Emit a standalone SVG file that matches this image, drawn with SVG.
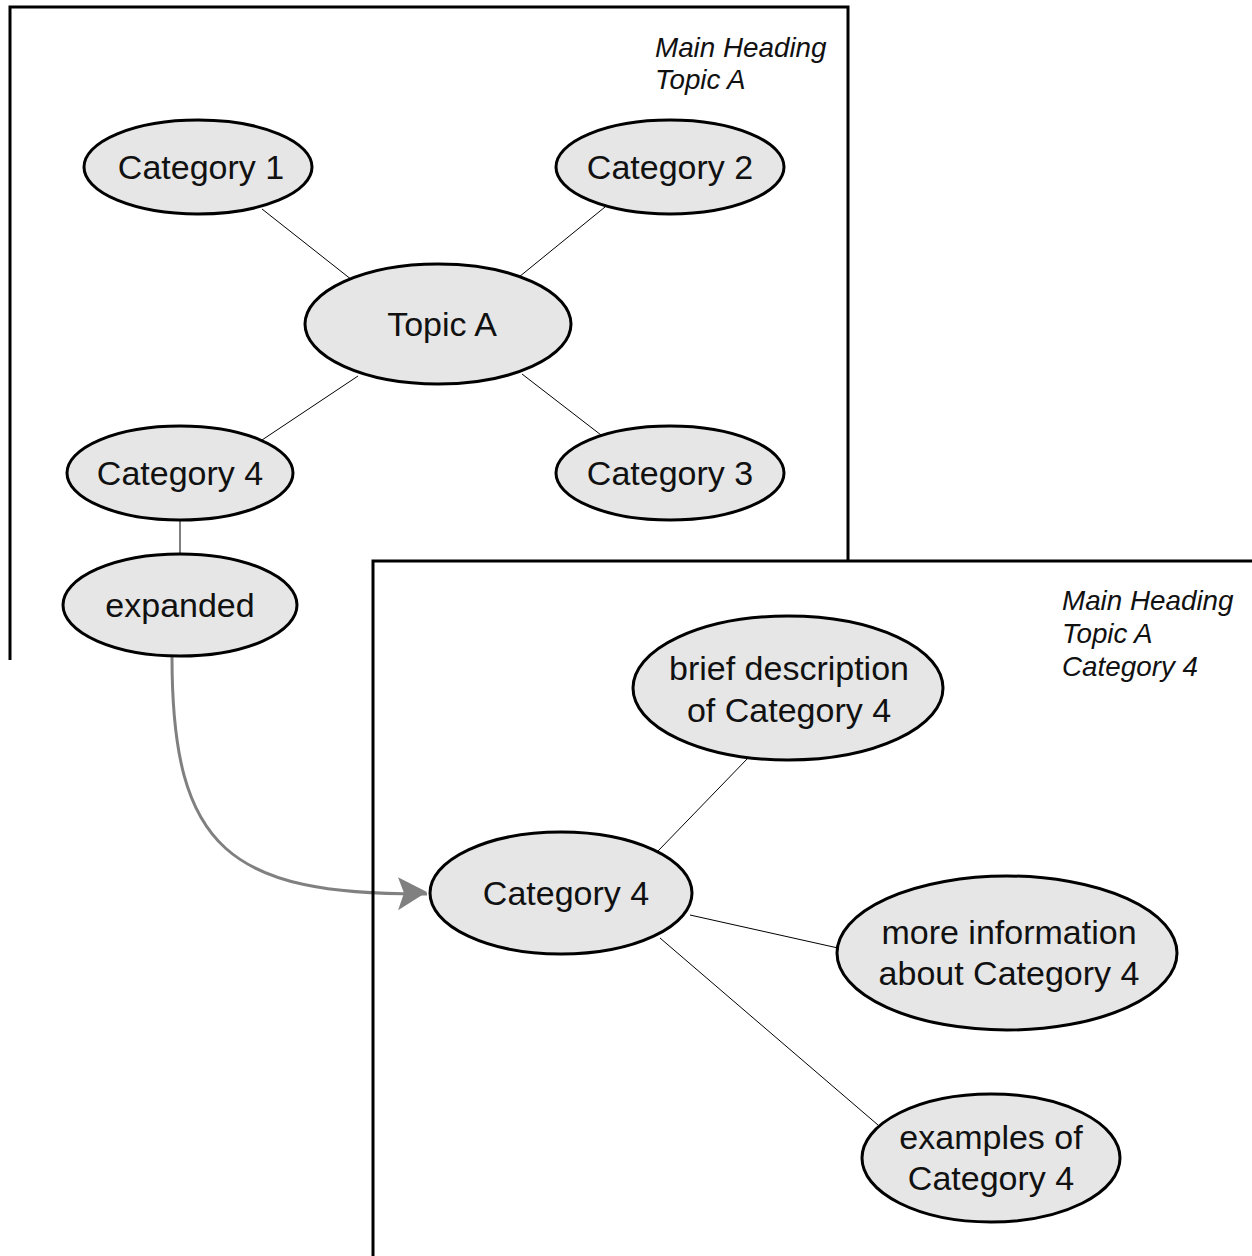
<svg xmlns="http://www.w3.org/2000/svg" width="1252" height="1256" viewBox="0 0 1252 1256">
  <style>
    .frame { fill: none; stroke: #000; stroke-width: 3; }
    .node ellipse { fill: #e6e6e6; stroke: #000; stroke-width: 3; }
    .node text { font-family: "Liberation Sans", Arial, sans-serif; font-size: 34px; fill: #111; text-anchor: middle; }
    .heading { font-family: "Liberation Sans", Arial, sans-serif; font-size: 27.8px; font-style: italic; fill: #111; }
    .edge { stroke: #000; stroke-width: 1; fill: none; }
    .expand { stroke: #808080; stroke-width: 3; fill: none; }
  </style>
  <defs>
    <marker id="arrow" viewBox="0 0 30 34" refX="29" refY="17" markerWidth="30" markerHeight="34" markerUnits="userSpaceOnUse" orient="auto">
      <path d="M0,0 L29,15 L0,33 L6,16 Z" fill="#808080"/>
    </marker>
  </defs>
  <rect width="1252" height="1256" fill="#fff"/>

  <g id="frame-topic-a">
    <path class="frame" d="M10,660 V7 H848 V561"/>
    <text class="heading" x="655" y="57">Main Heading</text>
    <text class="heading" x="655" y="89">Topic A</text>
  </g>

  <g id="connectors">
    <line class="edge" x1="262" y1="209" x2="352" y2="280"/>
    <line class="edge" x1="605" y1="207" x2="519" y2="277"/>
    <line class="edge" x1="358" y1="376" x2="262" y2="440"/>
    <line class="edge" x1="522" y1="374" x2="601" y2="435"/>
    <line class="edge" x1="180" y1="520" x2="180" y2="554"/>
    <line class="edge" x1="658" y1="851" x2="748" y2="758"/>
    <line class="edge" x1="690" y1="915" x2="838" y2="948"/>
    <line class="edge" x1="660" y1="938" x2="878" y2="1125"/>
    <path class="expand" d="M172,657 C172,850 230,895 427,894" marker-end="url(#arrow)"/>
  </g>

  <g id="frame-category-4">
    <path class="frame" d="M373,1256 V561 H1252"/>
    <text class="heading" x="1062" y="610">Main Heading</text>
    <text class="heading" x="1062" y="643">Topic A</text>
    <text class="heading" x="1062" y="676">Category 4</text>
  </g>

  <g id="node-category-1" class="node">
    <ellipse cx="198" cy="167" rx="114" ry="47"/>
    <text x="201" y="179">Category 1</text>
  </g>
  <g id="node-category-2" class="node">
    <ellipse cx="670" cy="167" rx="114" ry="47"/>
    <text x="670" y="179">Category 2</text>
  </g>
  <g id="node-topic-a" class="node">
    <ellipse cx="438" cy="324" rx="133" ry="60"/>
    <text x="442" y="336">Topic A</text>
  </g>
  <g id="node-category-4" class="node">
    <ellipse cx="180" cy="473" rx="113" ry="47"/>
    <text x="180" y="485">Category 4</text>
  </g>
  <g id="node-category-3" class="node">
    <ellipse cx="670" cy="473" rx="114" ry="47"/>
    <text x="670" y="485">Category 3</text>
  </g>
  <g id="node-expanded" class="node">
    <ellipse cx="180" cy="605" rx="117" ry="51"/>
    <text x="180" y="617">expanded</text>
  </g>
  <g id="node-brief-description" class="node">
    <ellipse cx="788" cy="688" rx="155" ry="72"/>
    <text x="789" y="680">brief description</text>
    <text x="789" y="722">of Category 4</text>
  </g>
  <g id="node-category-4-expanded" class="node">
    <ellipse cx="561" cy="893" rx="131" ry="61"/>
    <text x="566" y="905">Category 4</text>
  </g>
  <g id="node-more-information" class="node">
    <ellipse cx="1007" cy="953" rx="170" ry="77"/>
    <text x="1009" y="944">more information</text>
    <text x="1009" y="985">about Category 4</text>
  </g>
  <g id="node-examples" class="node">
    <ellipse cx="991" cy="1158" rx="129" ry="64"/>
    <text x="991" y="1149">examples of</text>
    <text x="991" y="1190">Category 4</text>
  </g>
</svg>
